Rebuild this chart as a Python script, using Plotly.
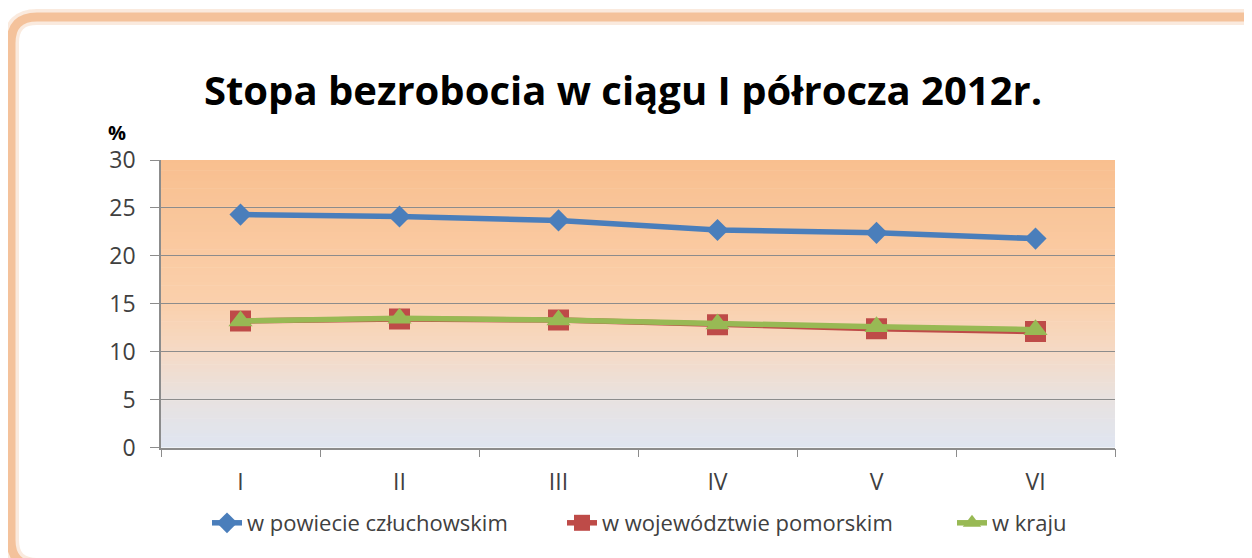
import plotly.graph_objects as go

categories = ["I", "II", "III", "IV", "V", "VI"]
powiat = [24.3, 24.1, 23.7, 22.7, 22.4, 21.8]
wojewodztwo = [13.2, 13.4, 13.3, 12.8, 12.4, 12.1]
kraj = [13.2, 13.5, 13.3, 12.9, 12.6, 12.3]
series_names = ["w powiecie człuchowskim", "w województwie pomorskim", "w kraju"]
title_text = "Stopa bezrobocia w ciągu I półrocza 2012r."

W, H = 1252, 558
OFF = 8  # page body margin in the browser
FONT = "Open Sans"

def PX(v):
    return (v - OFF) / W

def PY(v):
    return 1 - (v - OFF) / H

fig = go.Figure()
fig.add_trace(go.Scatter(x=categories, y=powiat, name=series_names[0], mode="lines+markers",
                         line=dict(color="#4A7EBB", width=5.5), legend="legend",
                         marker=dict(symbol="diamond", size=17, color="#4A7EBB")))
fig.add_trace(go.Scatter(x=categories, y=wojewodztwo, name=series_names[1], mode="lines+markers",
                         line=dict(color="#BE4B48", width=5.5), legend="legend2",
                         marker=dict(symbol="square", size=21, color="#BE4B48")))
fig.add_trace(go.Scatter(x=categories, y=kraj, name=series_names[2], mode="lines+markers",
                         line=dict(color="#98B954", width=5.5), legend="legend3",
                         marker=dict(symbol="triangle-up", size=21, color="#98B954")))

# gradient background bands for plot area
stops = [(0.0, (223, 229, 241)), (0.17, (232, 226, 224)), (0.33, (245, 218, 198)),
         (0.5, (250, 208, 172)), (1.0, (249, 191, 143))]
def col(t):
    for (t0, c0), (t1, c1) in zip(stops[:-1], stops[1:]):
        if t0 <= t <= t1:
            f = (t - t0) / (t1 - t0)
            return "rgb(%d,%d,%d)" % tuple(round(a + (b - a) * f) for a, b in zip(c0, c1))
    return "rgb(%d,%d,%d)" % stops[-1][1]
shapes = []
N = 80
for i in range(N):
    y0 = i / N
    y1 = (i + 1) / N + 0.002
    shapes.append(dict(type="rect", xref="x domain", yref="y domain", x0=0, x1=1, y0=y0, y1=min(y1, 1),
                       fillcolor=col((i + 0.5) / N), line=dict(width=0), layer="below"))

# rounded frame
def frame_path(x0, y0, x1, y1, r):
    return (f"M {PX(x0)},{PY(y0 + r)} Q {PX(x0)},{PY(y0)} {PX(x0 + r)},{PY(y0)} "
            f"L {PX(x1 - r)},{PY(y0)} Q {PX(x1)},{PY(y0)} {PX(x1)},{PY(y0 + r)} "
            f"L {PX(x1)},{PY(y1 - r)} Q {PX(x1)},{PY(y1)} {PX(x1 - r)},{PY(y1)} "
            f"L {PX(x0 + r)},{PY(y1)} Q {PX(x0)},{PY(y1)} {PX(x0)},{PY(y1 - r)} Z")
shapes.append(dict(type="path", xref="paper", yref="paper", path=frame_path(11, 17, 1275, 566, 26),
                   line=dict(color="rgba(240,185,145,0.30)", width=16), layer="above"))
shapes.append(dict(type="path", xref="paper", yref="paper", path=frame_path(11, 17, 1275, 566, 26),
                   line=dict(color="#F4C29B", width=9), layer="above"))

def leg(xtext):
    return dict(orientation="h", x=PX(xtext - 41), xanchor="left", y=PY(523), yanchor="middle",
                font=dict(family=FONT, size=22, color="#404040"), bgcolor="rgba(0,0,0,0)")

fig.update_layout(
    width=W, height=H,
    margin=dict(l=0, r=0, t=0, b=0, autoexpand=False),
    paper_bgcolor="white",
    plot_bgcolor="rgba(0,0,0,0)",
    shapes=shapes,
    font=dict(family=FONT, color="#404040"),
    title=dict(text=title_text, x=PX(623), xanchor="center", y=PY(91), yanchor="middle",
               font=dict(family=FONT, size=40, color="black", weight="bold")),
    showlegend=True,
    legend=leg(248),
    legend2=leg(603),
    legend3=leg(993),
    annotations=[dict(text="<b>%</b>", xref="paper", yref="paper", x=PX(117), y=PY(132),
                      xanchor="center", yanchor="middle", showarrow=False,
                      font=dict(family=FONT, size=20, color="black"))],
    xaxis=dict(domain=[PX(161), PX(1115)], range=[-0.5, 5.5], type="category",
               showline=True, linecolor="#8C8C8C", linewidth=1.5,
               ticks="outside", tickson="boundaries", ticklen=8, tickcolor="#8C8C8C",
               showgrid=False, tickfont=dict(family=FONT, size=23, color="#404040"),
               ticklabelstandoff=13, zeroline=False, automargin=False),
    yaxis=dict(domain=[PY(447.5), PY(160)], range=[0, 30], dtick=5,
               showline=True, linecolor="#8C8C8C", linewidth=1.5,
               ticks="outside", ticklen=9, tickcolor="#8C8C8C",
               showgrid=True, gridcolor="#8C8C8C", gridwidth=1.2,
               tickfont=dict(family=FONT, size=23, color="#404040"),
               ticklabelstandoff=10, zeroline=False, automargin=False),
)

fig.write_html("out.html")
